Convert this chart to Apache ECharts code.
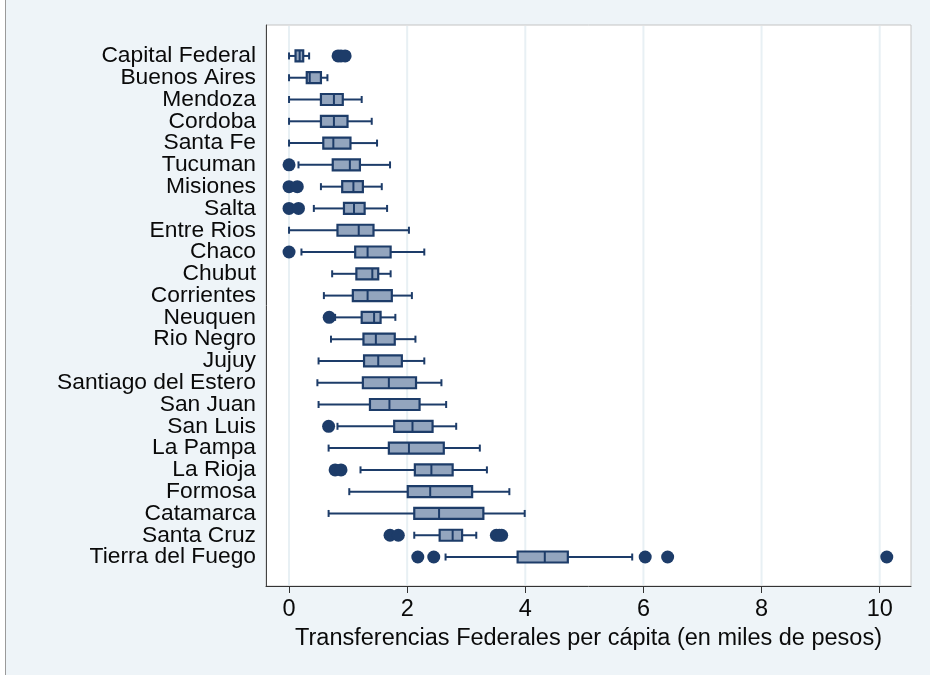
<!DOCTYPE html>
<html lang="es">
<head>
  <meta charset="UTF-8">
  <title>Transferencias Federales per cápita</title>
  <script src="https://cdn.jsdelivr.net/npm/echarts@6/dist/echarts.min.js"></script>
  <style>
    html, body { margin: 0; padding: 0; background: #fff; }
    #wrap { position: absolute; left: 5px; top: 0; width: 925px; height: 675px;
            border-left: 1px solid #9a9a9a; background: #eef4f8; }
    #chart { position: absolute; left: -6px; top: 0; width: 930px; height: 675px; }
  </style>
</head>
<body>
  <div id="wrap"><div id="chart"></div></div>
  <script>
    // provincias, de arriba hacia abajo
    var provincias = ['Capital Federal','Buenos Aires','Mendoza','Cordoba','Santa Fe','Tucuman',
      'Misiones','Salta','Entre Rios','Chaco','Chubut','Corrientes','Neuquen','Rio Negro','Jujuy',
      'Santiago del Estero','San Juan','San Luis','La Pampa','La Rioja','Formosa','Catamarca',
      'Santa Cruz','Tierra del Fuego'];

    // [bigote inf, q1, mediana, q3, bigote sup]
    var cajas = [
      [0.00, 0.11, 0.18, 0.24, 0.34],
      [0.00, 0.30, 0.35, 0.54, 0.65],
      [0.00, 0.54, 0.76, 0.91, 1.23],
      [0.00, 0.54, 0.76, 0.99, 1.40],
      [0.00, 0.58, 0.75, 1.04, 1.49],
      [0.16, 0.74, 1.03, 1.20, 1.71],
      [0.54, 0.90, 1.09, 1.25, 1.57],
      [0.42, 0.93, 1.10, 1.28, 1.66],
      [0.00, 0.82, 1.18, 1.43, 2.03],
      [0.21, 1.12, 1.33, 1.72, 2.29],
      [0.73, 1.14, 1.41, 1.51, 1.72],
      [0.59, 1.08, 1.33, 1.74, 2.08],
      [0.78, 1.23, 1.44, 1.55, 1.80],
      [0.71, 1.26, 1.47, 1.79, 2.14],
      [0.50, 1.27, 1.51, 1.91, 2.29],
      [0.48, 1.25, 1.69, 2.15, 2.58],
      [0.50, 1.37, 1.70, 2.21, 2.66],
      [0.82, 1.78, 2.09, 2.43, 2.83],
      [0.67, 1.69, 2.03, 2.62, 3.23],
      [1.21, 2.13, 2.41, 2.77, 3.35],
      [1.02, 2.01, 2.39, 3.10, 3.73],
      [0.67, 2.12, 2.54, 3.29, 3.99],
      [2.12, 2.55, 2.77, 2.93, 3.17],
      [2.65, 3.87, 4.33, 4.72, 5.81]
    ];

    // valores atípicos: [valor, índice de provincia]
    var atipicos = [
      [0.83, 0], [0.88, 0], [0.95, 0],
      [0.00, 5],
      [0.00, 6], [0.14, 6],
      [0.00, 7], [0.16, 7],
      [0.00, 9],
      [0.68, 12],
      [0.67, 17],
      [0.78, 19], [0.88, 19],
      [1.71, 22], [1.85, 22], [3.51, 22], [3.56, 22], [3.60, 22],
      [2.18, 23], [2.45, 23], [6.03, 23], [6.41, 23], [10.12, 23]
    ];

    var ticksX = [0, 2, 4, 6, 8, 10];
    // filas pares e impares en dos ejes, para que ECharts no oculte etiquetas contiguas
    var filasPares = provincias.map(function (p, i) { return i; }).filter(function (i) { return i % 2 === 0; });
    var filasImpares = provincias.map(function (p, i) { return i; }).filter(function (i) { return i % 2 === 1; });

    var navy = '#1d3c69';
    var relleno = '#93a5be';
    var fuente = '"Liberation Sans", Arial, Helvetica, sans-serif';

    function ejeY(valores, conLinea) {
      return {
        type: 'value', inverse: true, min: -1.42, max: 24.33, position: 'left', offset: 0,
        axisLine: { show: conLinea, onZero: false, lineStyle: { color: '#444', width: 1 } },
        axisTick: { show: false },
        axisLabel: {
          customValues: valores, margin: 10, fontFamily: fuente, fontSize: 22.8,
          color: '#0a0a0a', formatter: function (v) { return provincias[v] || ''; }
        },
        splitLine: { show: false }
      };
    }

    var chart = echarts.init(document.getElementById('chart'));

    chart.setOption({
      backgroundColor: 'transparent',
      animation: false,
      grid: {
        left: 266, right: 19, top: 25, bottom: 89,
        show: true, backgroundColor: '#fff', borderColor: '#c4c4c4', borderWidth: 1
      },
      xAxis: {
        type: 'value', min: -0.39, max: 10.53,
        name: 'Transferencias Federales per cápita (en miles de pesos)',
        nameLocation: 'middle', nameGap: 38,
        nameTextStyle: { fontFamily: fuente, fontSize: 23.5, color: '#0a0a0a' },
        axisLine: { show: true, onZero: false, lineStyle: { color: '#333', width: 1 } },
        axisTick: { show: true, length: 7, customValues: ticksX, lineStyle: { color: '#333', width: 1 } },
        axisLabel: { customValues: ticksX, margin: 12, fontFamily: fuente, fontSize: 23.5, color: '#0a0a0a' },
        splitLine: { show: false }
      },
      yAxis: [ejeY(filasPares, true), ejeY(filasImpares, false)],
      series: [
        {
          // líneas de cuadrícula verticales
          type: 'custom',
          silent: true,
          z: 1,
          data: ticksX,
          renderItem: function (params, api) {
            var x = api.coord([api.value(0), 0])[0];
            var cs = params.coordSys;
            return {
              type: 'line',
              shape: { x1: x, y1: cs.y + 1, x2: x, y2: cs.y + cs.height - 1 },
              style: { stroke: '#e8f0f4', lineWidth: 2 }
            };
          }
        },
        {
          type: 'custom',
          z: 3,
          data: cajas.map(function (c, i) { return [i].concat(c); }),
          renderItem: function (params, api) {
            var i = api.value(0);
            var lo = api.coord([api.value(1), i]);
            var q1 = api.coord([api.value(2), i]);
            var md = api.coord([api.value(3), i]);
            var q3 = api.coord([api.value(4), i]);
            var hi = api.coord([api.value(5), i]);
            var y = lo[1];
            var h = 11, cap = 3.5;
            var ln = { stroke: navy, lineWidth: 2 };
            return {
              type: 'group',
              children: [
                { type: 'line', shape: { x1: lo[0], y1: y, x2: q1[0], y2: y }, style: ln },
                { type: 'line', shape: { x1: q3[0], y1: y, x2: hi[0], y2: y }, style: ln },
                { type: 'line', shape: { x1: lo[0], y1: y - cap, x2: lo[0], y2: y + cap }, style: ln },
                { type: 'line', shape: { x1: hi[0], y1: y - cap, x2: hi[0], y2: y + cap }, style: ln },
                { type: 'rect', shape: { x: q1[0], y: y - h / 2, width: q3[0] - q1[0], height: h },
                  style: { fill: relleno, stroke: navy, lineWidth: 2.2 } },
                { type: 'line', shape: { x1: md[0], y1: y - h / 2, x2: md[0], y2: y + h / 2 }, style: ln }
              ]
            };
          }
        },
        {
          type: 'scatter',
          z: 4,
          symbol: 'circle',
          symbolSize: 13,
          itemStyle: { color: navy, opacity: 1 },
          data: atipicos
        }
      ]
    });
  </script>
</body>
</html>
